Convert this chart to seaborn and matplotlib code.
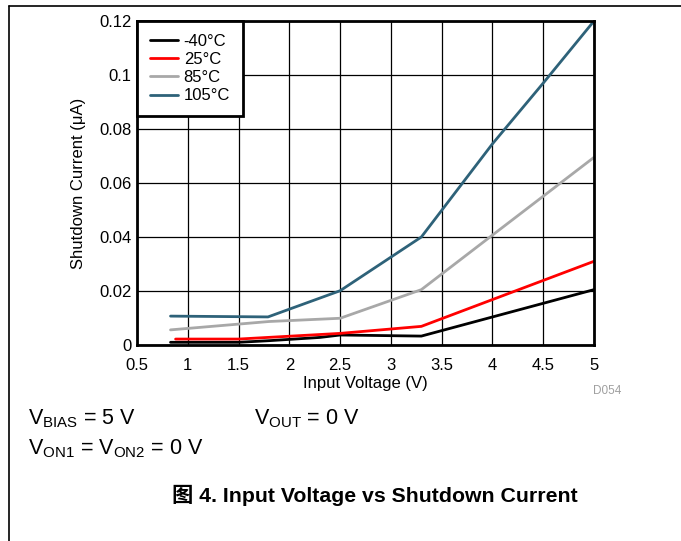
import numpy as np
import pandas as pd
import matplotlib
matplotlib.use("Agg")
import matplotlib.pyplot as plt
import seaborn as sns

# ---- data ----
series_labels = ["-40°C", "25°C", "85°C", "105°C"]
vin_m40 = [0.83, 1.5, 1.8, 2.3, 2.5, 3.3, 5.0]
cur_m40 = [0.0010, 0.0010, 0.0016, 0.0028, 0.0037, 0.0033, 0.0205]
vin_25 = [0.88, 1.5, 2.5, 3.3, 5.0]
cur_25 = [0.0022, 0.0022, 0.0043, 0.0069, 0.0310]
vin_85 = [0.83, 1.8, 2.5, 3.3, 4.0, 5.0]
cur_85 = [0.0056, 0.0087, 0.0099, 0.0205, 0.0407, 0.0695]
vin_105 = [0.83, 1.79, 2.5, 3.3, 4.0, 4.5, 5.0]
cur_105 = [0.0107, 0.0104, 0.0201, 0.0400, 0.0745, 0.0970, 0.1200]
x_ticks = [0.5, 1, 1.5, 2, 2.5, 3, 3.5, 4, 4.5, 5]
y_ticks = [0, 0.02, 0.04, 0.06, 0.08, 0.1, 0.12]
colors = ["#000000", "#ff0000", "#a8a8a8", "#2e6279"]

frames = []
for lab, xs, ys in zip(series_labels,
                       [vin_m40, vin_25, vin_85, vin_105],
                       [cur_m40, cur_25, cur_85, cur_105]):
    frames.append(pd.DataFrame({"Vin": xs, "I": ys, "T": lab}))
df = pd.concat(frames, ignore_index=True)

sns.set_theme(style="white")
plt.rcParams["font.family"] = ["Liberation Sans", "Noto Sans CJK SC", "DejaVu Sans"]
plt.rcParams["mathtext.fontset"] = "custom"
plt.rcParams["mathtext.rm"] = "Liberation Sans"
plt.rcParams["text.color"] = "black"
plt.rcParams["axes.labelcolor"] = "black"

fig = plt.figure(figsize=(6.81, 5.41), dpi=100)
ax = fig.add_axes([137/681, 1 - 345/541, (594 - 137)/681, (345 - 21)/541])

sns.lineplot(data=df, x="Vin", y="I", hue="T", hue_order=series_labels,
             palette=colors, linewidth=2, ax=ax, sort=False, estimator=None)

ax.set_xlim(0.5, 5)
ax.set_ylim(0, 0.12)
ax.set_xticks(x_ticks)
ax.set_yticks(y_ticks)
ax.set_xticklabels([f"{v:g}" for v in x_ticks])
ax.set_yticklabels([f"{v:g}" for v in y_ticks])
ax.tick_params(axis="both", length=0, labelsize=12, colors="black")
ax.tick_params(axis="x", pad=9)
ax.tick_params(axis="y", pad=4)
ax.grid(True, color="black", linewidth=0.9)
ax.set_axisbelow(True)
for sp in ax.spines.values():
    sp.set_color("black")
    sp.set_linewidth(2)
ax.set_xlabel("Input Voltage (V)", fontsize=12, color="black", labelpad=2.5)
ax.set_ylabel("Shutdown Current (μA)", fontsize=12, color="black", labelpad=9.5)

leg = ax.legend(loc="upper left", borderaxespad=0, fancybox=False,
                framealpha=1, edgecolor="black", fontsize=12,
                handlelength=1.7, handletextpad=0.35, labelspacing=0.2,
                borderpad=0.75, title=None)
leg.get_frame().set_linewidth(2)
for lh in leg.get_lines():
    lh.set_linewidth(2)

# figure border lines
fig.add_artist(plt.Line2D([9/681, 9/681], [0, 1 - 6/541], color="black", linewidth=1.2,
                          transform=fig.transFigure))
fig.add_artist(plt.Line2D([9/681, 1], [1 - 6/541, 1 - 6/541], color="black", linewidth=1.2,
                          transform=fig.transFigure))

fig.text(593/681, 1 - 391/541, "D054", fontsize=8.5, color="#a0a0a0", va="center", ha="left")
fig.text(28/681, 1 - 419/541, r"V$_{\mathregular{BIAS}}$ = 5 V", fontsize=15.5, va="center", ha="left")
fig.text(254/681, 1 - 419/541, r"V$_{\mathregular{OUT}}$ = 0 V", fontsize=15.5, va="center", ha="left")
fig.text(28/681, 1 - 449/541, r"V$_{\mathregular{ON1}}$ = V$_{\mathregular{ON2}}$ = 0 V", fontsize=15.5, va="center", ha="left")
fig.text(375/681, 1 - 495/541, "图 4. Input Voltage vs Shutdown Current", fontsize=15.3,
         fontweight="bold", va="center", ha="center")

fig.savefig("out.png", dpi=100)
